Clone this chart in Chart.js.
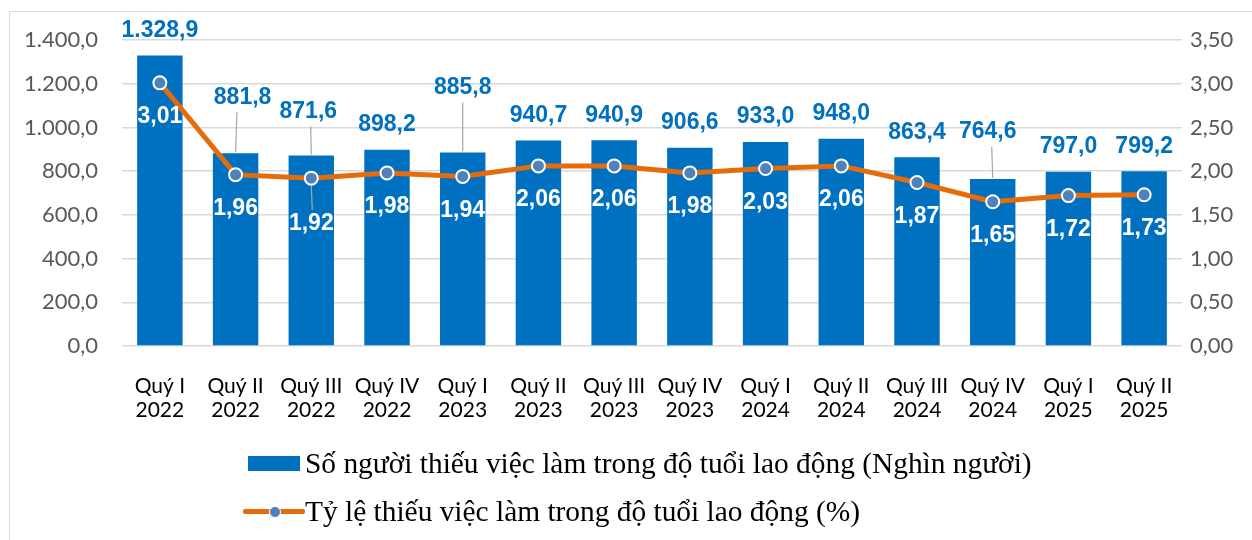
<!DOCTYPE html>
<html>
<head>
<meta charset="utf-8">
<script src="https://cdn.jsdelivr.net/npm/chart.js@4.4.0/dist/chart.umd.min.js"></script>
<style>
html, body { margin: 0; padding: 0; background: #fff; }
body { width: 1252px; height: 540px; position: relative; overflow: hidden; font-family: Lato, sans-serif; }
#frame { position: absolute; left: 9px; top: 11px; width: 1400px; height: 700px; border: 1.5px solid #d9d9d9; }
#wrap { position: absolute; left: 0; top: 0; width: 1252px; height: 540px; }
#legend { position: absolute; left: 248px; top: 439px; font-family: "Liberation Serif", "Times New Roman", serif; font-size: 29.4px; color: #000; }
.row { height: 48px; display: flex; align-items: center; white-space: nowrap; }
.box { width: 52px; height: 15px; background: #0070C0; margin-right: 5px; }
.ln { width: 62px; height: 15px; position: relative; margin-left: -5px; margin-right: 0; }
.ln i { position: absolute; left: 0; right: 0; top: 5px; height: 5px; background: #E46C0A; border-radius: 2px; }
.ln b { position: absolute; left: 26px; top: 2px; width: 10px; height: 10px; border-radius: 50%; background: #4F81BD; border: 0.5px solid #fff; }
</style>
</head>
<body>
<div id="frame"></div>
<div id="wrap"><canvas id="canvas" width="1252" height="540"></canvas></div>
<div id="legend">
  <div class="row"><span class="box"></span>Số người thiếu việc làm trong độ tuổi lao động (Nghìn người)</div>
  <div class="row"><span class="ln"><i></i><b></b></span>Tỷ lệ thiếu việc làm trong độ tuổi lao động (%)</div>
</div>
<script>
// nhãn trục X (quý / năm)
var quy = ['Quý I', 'Quý II', 'Quý III', 'Quý IV', 'Quý I', 'Quý II', 'Quý III', 'Quý IV', 'Quý I', 'Quý II', 'Quý III', 'Quý IV', 'Quý I', 'Quý II'];
var nam = ['2022', '2022', '2022', '2022', '2023', '2023', '2023', '2023', '2024', '2024', '2024', '2024', '2025', '2025'];
// số người thiếu việc làm (nghìn người)
var soNguoi = [1328.9, 881.8, 871.6, 898.2, 885.8, 940.7, 940.9, 906.6, 933.0, 948.0, 863.4, 764.6, 797.0, 799.2];
// tỷ lệ thiếu việc làm (%)
var tyLe = [3.01, 1.96, 1.92, 1.98, 1.94, 2.06, 2.06, 1.98, 2.03, 2.06, 1.87, 1.65, 1.72, 1.73];
// trục
var leftMax = 1400, leftStep = 200;
var rightMax = 3.5, rightStep = 0.5;

var Labels = [];
for (var i = 0; i < quy.length; i++) {
  Labels.push([quy[i], nam[i]]);
}

// định dạng số kiểu Việt Nam: 1.328,9
function fmt(v, d) {
  var s = v.toFixed(d).split('.');
  var a = s[0].replace(/\B(?=(\d{3})+(?!\d))/g, '.');
  return s[1] ? a + ',' + s[1] : a;
}

// nhãn bị đẩy lên có đường dẫn: [dx, đẩy thêm]
var barShift = { 1: [7, 31], 2: [-3, 19], 4: [0, 40], 11: [-5, 22] };
var lineShift = { 2: 12 };

var labelPlugin = {
  id: 'nhan',
  afterDatasetsDraw: function (chart) {
    var ctx = chart.ctx;
    var bars = chart.getDatasetMeta(0).data;
    var pts = chart.getDatasetMeta(1).data;
    ctx.save();
    ctx.textAlign = 'center';
    ctx.textBaseline = 'middle';
    ctx.font = 'bold 23px "Liberation Sans", Arial, sans-serif';
    // nhãn cột
    for (var i = 0; i < bars.length; i++) {
      var b = bars[i];
      var sh = barShift[i] || [0, 0];
      var lx = b.x + sh[0];
      var ly = b.y - 25 - sh[1];
      if (barShift[i]) {
        ctx.strokeStyle = '#a6a6a6';
        ctx.lineWidth = 1.2;
        ctx.beginPath();
        ctx.moveTo(b.x + sh[0] * 0.2, ly + 15);
        ctx.lineTo(b.x, b.y - 1);
        ctx.stroke();
      }
      ctx.fillStyle = '#0070C0';
      ctx.fillText(fmt(soNguoi[i], 1), lx, ly);
    }
    // nhãn đường
    for (var j = 0; j < pts.length; j++) {
      var p = pts[j];
      var extra = lineShift[j] || 0;
      var py = p.y + 34 + extra;
      if (extra) {
        ctx.strokeStyle = '#a6a6a6';
        ctx.lineWidth = 1.2;
        ctx.beginPath();
        ctx.moveTo(p.x, p.y + 8);
        ctx.lineTo(p.x + 1, py - 14);
        ctx.stroke();
      }
      ctx.fillStyle = '#ffffff';
      ctx.fillText(fmt(tyLe[j], 2), p.x, py);
    }
    ctx.restore();
  }
};

function drawChart() {
  var ctx = document.getElementById('canvas').getContext('2d');
  window.myChart = new Chart(ctx, {
    type: 'bar',
    data: {
      labels: Labels,
      datasets: [{
        type: 'bar',
        label: 'Số người thiếu việc làm trong độ tuổi lao động (Nghìn người)',
        data: soNguoi,
        backgroundColor: '#0070C0',
        barPercentage: 0.6,
        categoryPercentage: 1.0,
        yAxisID: 'y',
        order: 2
      }, {
        type: 'line',
        label: 'Tỷ lệ thiếu việc làm trong độ tuổi lao động (%)',
        data: tyLe,
        borderColor: '#E46C0A',
        borderWidth: 5,
        pointRadius: 6.5,
        pointBackgroundColor: '#4F81BD',
        pointBorderColor: '#ffffff',
        pointBorderWidth: 2,
        tension: 0,
        yAxisID: 'y1',
        order: 1
      }]
    },
    options: {
      responsive: false,
      animation: false,
      layout: { padding: { left: 10, right: 0, top: 40, bottom: 94 } },
      plugins: {
        legend: { display: false },
        tooltip: { enabled: false }
      },
      scales: {
        x: {
          grid: { display: false },
          border: { display: false },
          ticks: {
            color: '#000',
            font: { family: 'Lato', size: 21, lineHeight: 1.15 },
            padding: 20,
            autoSkip: false,
            maxRotation: 0
          },
          afterFit: function (s) { s.height = 100; }
        },
        y: {
          position: 'left',
          min: 0, max: leftMax,
          grid: { color: '#d9d9d9', lineWidth: 1.5, drawTicks: false },
          border: { display: false },
          ticks: {
            stepSize: leftStep,
            color: '#595959',
            font: { family: 'Lato', size: 22 },
            padding: 24,
            callback: function (v) { return fmt(v, 1); }
          },
          afterFit: function (s) { s.width = 112; }
        },
        y1: {
          position: 'right',
          min: 0, max: rightMax,
          grid: { display: false, drawTicks: false },
          border: { display: false },
          ticks: {
            stepSize: rightStep,
            color: '#595959',
            font: { family: 'Lato', size: 22 },
            padding: 8,
            callback: function (v) { return fmt(v, 2); }
          },
          afterFit: function (s) { s.width = 70; }
        }
      }
    },
    plugins: [labelPlugin]
  });
}

// đợi font rồi mới vẽ
Promise.all([
  document.fonts.load('21px Lato'),
  document.fonts.load('22px Lato'),
  document.fonts.load('bold 23px "Liberation Sans"')
]).then(drawChart, drawChart);
</script>
</body>
</html>
